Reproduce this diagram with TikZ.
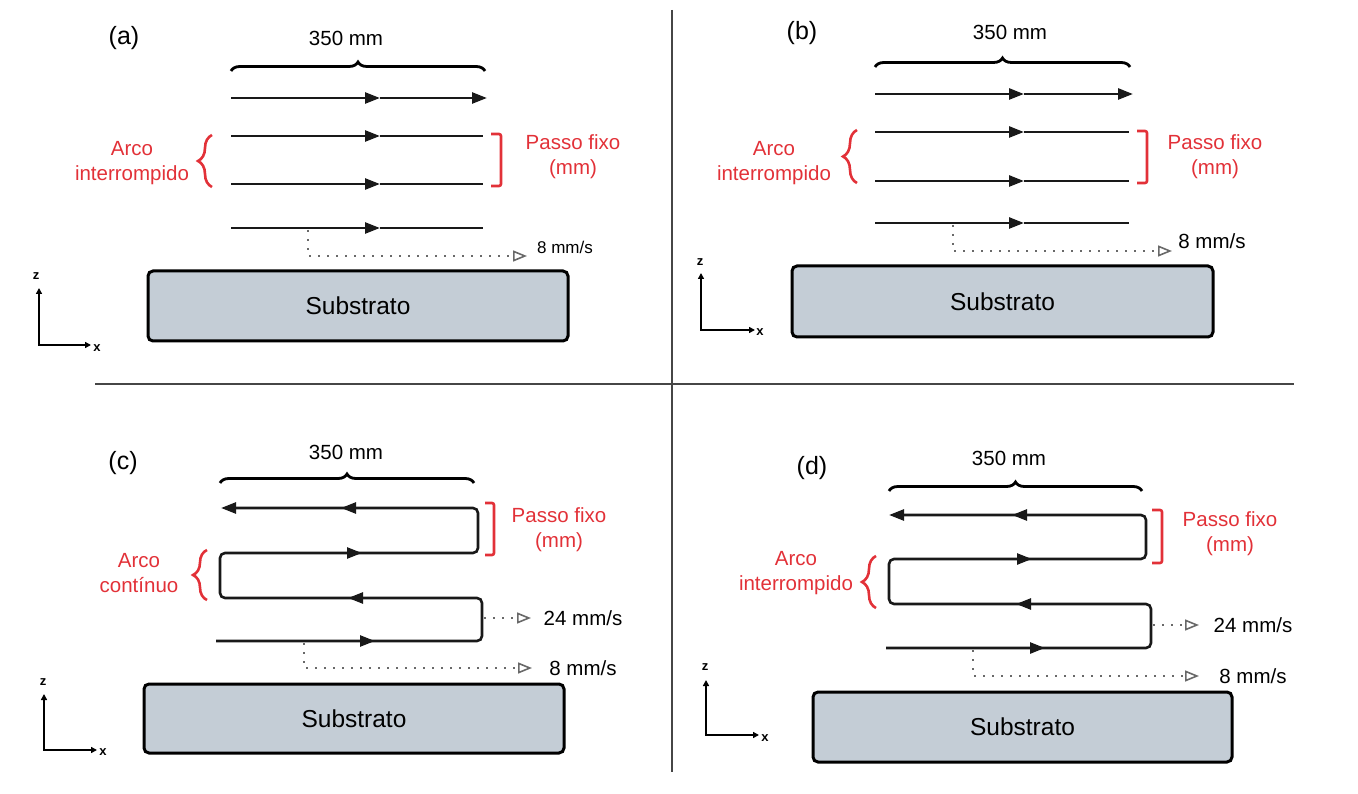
\documentclass[tikz,border=0pt]{standalone}
\usepackage{fontspec}
\setmainfont{Liberation Sans}
\usetikzlibrary{arrows.meta,decorations.pathreplacing}
\definecolor{myred}{RGB}{226,49,56}
\definecolor{subfill}{RGB}{196,205,214}
\definecolor{divgray}{RGB}{70,70,70}
\definecolor{dotgray}{RGB}{105,105,105}
\tikzset{
 trk/.style={line width=2.6pt, black!90},
 tipped/.style={trk, -{Triangle[length=15pt,width=11pt]}},
 spd/.style={line width=2.4pt, dotgray, dash pattern=on 2.4pt off 6.6pt, -{Triangle[open,length=14pt,width=11pt,line width=1.6pt]}},
 topbrace/.style={line width=2.8pt, decorate, decoration={brace,amplitude=9pt}},
 redbrace/.style={myred, line width=2.6pt, decorate, decoration={brace,amplitude=14pt}},
 redbracket/.style={myred, line width=2.6pt, rounded corners=2pt},
 redtxt/.style={myred, font=\fontsize{20.5}{25}\selectfont, align=center, inner sep=0pt},
 txt/.style={font=\fontsize{20.5}{25}\selectfont, inner sep=0pt},
 smalltxt/.style={font=\fontsize{17}{20}\selectfont, inner sep=0pt},
 paneltag/.style={font=\fontsize{25}{28}\selectfont, inner sep=0pt},
 substrate/.style={draw, line width=3pt, fill=subfill, rounded corners=5pt, font=\fontsize{24.5}{28}\selectfont},
 axis/.style={line width=2.6pt, {Triangle[length=6pt,width=6pt]}-{Triangle[length=6pt,width=6pt]}},
 axlbl/.style={font=\bfseries\fontsize{13}{14}\selectfont, inner sep=0pt},
 divider/.style={line width=2pt, divgray},
}
\begin{document}
\begin{tikzpicture}[x=1pt,y=-1pt]
\useasboundingbox (0,0) rectangle (1358,794);
% dividers
\coordinate (vT) at (672,10); \coordinate (vB) at (672,772);
\coordinate (hL) at (95,384); \coordinate (hR) at (1294,384);
\draw[divider] (vT) -- (vB);
\draw[divider] (hL) -- (hR);

% ================= (a)
\node[paneltag] (tagA) at (124,38) {(a)};
\node[txt] (lenA) at (346,38) {350 mm};
\coordinate (braA1) at (231,71); \coordinate (braA2) at (485,71);
\draw[topbrace] (braA1) -- (braA2);
\coordinate (a1s) at (231,98); \coordinate (a1m) at (380,98); \coordinate (a1e) at (487,98);
\coordinate (a2s) at (231,136); \coordinate (a2m) at (380,136); \coordinate (a2e) at (483,136);
\coordinate (a3s) at (231,184); \coordinate (a3m) at (380,184); \coordinate (a3e) at (483,184);
\coordinate (a4s) at (231,228); \coordinate (a4m) at (380,228); \coordinate (a4e) at (483,228);
\draw[tipped] (a1s) -- (a1m); \draw[tipped] (a1m) -- (a1e);
\draw[tipped] (a2s) -- (a2m); \draw[trk] (a2m) -- (a2e);
\draw[tipped] (a3s) -- (a3m); \draw[trk] (a3m) -- (a3e);
\draw[tipped] (a4s) -- (a4m); \draw[trk] (a4m) -- (a4e);
\coordinate (arbA1) at (212,187); \coordinate (arbA2) at (212,135);
\draw[redbrace] (arbA1) -- (arbA2);
\node[redtxt] (arcA) at (132,163.5) {Arco\\interrompido};
\coordinate (pbA1) at (491,134); \coordinate (pbA2) at (501,134);
\coordinate (pbA3) at (501,186); \coordinate (pbA4) at (491,186);
\draw[redbracket] (pbA1) -- (pbA2) -- (pbA3) -- (pbA4);
\node[redtxt] (passoA) at (573,156.5) {Passo fixo\\(mm)};
\coordinate (a8s) at (308,230); \coordinate (a8c) at (308,256); \coordinate (a8e) at (527,256);
\draw[spd] (a8s) -- (a8c) -- (a8e);
\node[smalltxt] (v8A) at (565,247) {8 mm/s};
\node[substrate, minimum width=420pt, minimum height=70pt] (subA) at (358,306) {Substrato};
\coordinate (aO) at (39,345); \coordinate (aZ) at (39,288); \coordinate (aX) at (91,345);
\draw[axis] (aZ) -- (aO) -- (aX);
\node[axlbl] (zA) at (36,276) {z};
\node[axlbl] (xA) at (97,348) {x};

% ================= (b)
\node[paneltag] (tagB) at (802,33) {(b)};
\node[txt] (lenB) at (1010,32) {350 mm};
\coordinate (braB1) at (875,67); \coordinate (braB2) at (1130,67);
\draw[topbrace] (braB1) -- (braB2);
\coordinate (b1s) at (875,94); \coordinate (b1m) at (1024,94); \coordinate (b1e) at (1133,94);
\coordinate (b2s) at (875,132); \coordinate (b2m) at (1024,132); \coordinate (b2e) at (1129,132);
\coordinate (b3s) at (875,181); \coordinate (b3m) at (1024,181); \coordinate (b3e) at (1129,181);
\coordinate (b4s) at (875,223); \coordinate (b4m) at (1024,223); \coordinate (b4e) at (1129,223);
\draw[tipped] (b1s) -- (b1m); \draw[tipped] (b1m) -- (b1e);
\draw[tipped] (b2s) -- (b2m); \draw[trk] (b2m) -- (b2e);
\draw[tipped] (b3s) -- (b3m); \draw[trk] (b3m) -- (b3e);
\draw[tipped] (b4s) -- (b4m); \draw[trk] (b4m) -- (b4e);
\coordinate (arbB1) at (857,183); \coordinate (arbB2) at (857,130);
\draw[redbrace] (arbB1) -- (arbB2);
\node[redtxt] (arcB) at (774,163.5) {Arco\\interrompido};
\coordinate (pbB1) at (1137,131); \coordinate (pbB2) at (1147,131);
\coordinate (pbB3) at (1147,183); \coordinate (pbB4) at (1137,183);
\draw[redbracket] (pbB1) -- (pbB2) -- (pbB3) -- (pbB4);
\node[redtxt] (passoB) at (1215,156.5) {Passo fixo\\(mm)};
\coordinate (b8s) at (953,225); \coordinate (b8c) at (953,251); \coordinate (b8e) at (1172,251);
\draw[spd] (b8s) -- (b8c) -- (b8e);
\node[txt] (v8B) at (1212,241) {8 mm/s};
\node[substrate, minimum width=421pt, minimum height=71pt] (subB) at (1002.5,301.5) {Substrato};
\coordinate (bO) at (701,330); \coordinate (bZ) at (701,273); \coordinate (bX) at (755,330);
\draw[axis] (bZ) -- (bO) -- (bX);
\node[axlbl] (zB) at (700,262) {z};
\node[axlbl] (xB) at (760,332) {x};

% ================= (c)
\node[paneltag] (tagC) at (123,463) {(c)};
\node[txt] (lenC) at (346,452) {350 mm};
\coordinate (braC1) at (220,483); \coordinate (braC2) at (474,483);
\draw[topbrace] (braC1) -- (braC2);
\coordinate (c4s) at (216,641); \coordinate (c4e) at (482,641);
\coordinate (c3e) at (482,598); \coordinate (c3s) at (220,598);
\coordinate (c2s) at (220,553); \coordinate (c2e) at (478,553);
\coordinate (c1e) at (478,508); \coordinate (c1s) at (221,508);
\draw[tipped, rounded corners=5pt] (c4s) -- (c4e) -- (c3e) -- (c3s) -- (c2s) -- (c2e) -- (c1e) -- (c1s);
\coordinate (c4m) at (375,641); \coordinate (c3m) at (348,598);
\coordinate (c2m) at (362,553); \coordinate (c1m) at (341,508);
\draw[tipped] ([xshift=-20pt]c4m) -- (c4m);
\draw[tipped] ([xshift=20pt]c3m) -- (c3m);
\draw[tipped] ([xshift=-20pt]c2m) -- (c2m);
\draw[tipped] ([xshift=20pt]c1m) -- (c1m);
\coordinate (pbC1) at (485,503); \coordinate (pbC2) at (494,503);
\coordinate (pbC3) at (494,555); \coordinate (pbC4) at (485,555);
\draw[redbracket] (pbC1) -- (pbC2) -- (pbC3) -- (pbC4);
\node[redtxt] (passoC) at (559,530) {Passo fixo\\(mm)};
\coordinate (arbC1) at (207,600); \coordinate (arbC2) at (207,550);
\draw[redbrace] (arbC1) -- (arbC2);
\node[redtxt] (arcC) at (139,573.5) {Arco\\contínuo};
\coordinate (c24s) at (484,618); \coordinate (c24e) at (531,618);
\draw[spd] (c24s) -- (c24e);
\node[txt] (v24C) at (583,618) {24 mm/s};
\coordinate (c8s) at (304,643); \coordinate (c8c) at (304,668); \coordinate (c8e) at (532,668);
\draw[spd] (c8s) -- (c8c) -- (c8e);
\node[txt] (v8C) at (583,668) {8 mm/s};
\node[substrate, minimum width=420pt, minimum height=69pt] (subC) at (354,718.5) {Substrato};
\coordinate (cO) at (44,750); \coordinate (cZ) at (44,694); \coordinate (cX) at (97,750);
\draw[axis] (cZ) -- (cO) -- (cX);
\node[axlbl] (zC) at (43,682) {z};
\node[axlbl] (xC) at (103,752) {x};

% ================= (d)
\node[paneltag] (tagD) at (812,468) {(d)};
\node[txt] (lenD) at (1009,458) {350 mm};
\coordinate (braD1) at (889,491); \coordinate (braD2) at (1142,491);
\draw[topbrace] (braD1) -- (braD2);
\coordinate (d4s) at (886,648); \coordinate (d4e) at (1151,648);
\coordinate (d3e) at (1151,604); \coordinate (d3s) at (889,604);
\coordinate (d2s) at (889,559); \coordinate (d2e) at (1146,559);
\coordinate (d1e) at (1146,515); \coordinate (d1s) at (889,515);
\draw[tipped, rounded corners=5pt] (d4s) -- (d4e) -- (d3e) -- (d3s) -- (d2s) -- (d2e) -- (d1e) -- (d1s);
\coordinate (d4m) at (1045,648); \coordinate (d3m) at (1016,604);
\coordinate (d2m) at (1032,559); \coordinate (d1m) at (1012,515);
\draw[tipped] ([xshift=-20pt]d4m) -- (d4m);
\draw[tipped] ([xshift=20pt]d3m) -- (d3m);
\draw[tipped] ([xshift=-20pt]d2m) -- (d2m);
\draw[tipped] ([xshift=20pt]d1m) -- (d1m);
\coordinate (pbD1) at (1152,510); \coordinate (pbD2) at (1162,510);
\coordinate (pbD3) at (1162,563); \coordinate (pbD4) at (1152,563);
\draw[redbracket] (pbD1) -- (pbD2) -- (pbD3) -- (pbD4);
\node[redtxt] (passoD) at (1230,534) {Passo fixo\\(mm)};
\coordinate (arbD1) at (876,608); \coordinate (arbD2) at (876,556);
\draw[redbrace] (arbD1) -- (arbD2);
\node[redtxt] (arcD) at (796,573.5) {Arco\\interrompido};
\coordinate (d24s) at (1153,625); \coordinate (d24e) at (1199,625);
\draw[spd] (d24s) -- (d24e);
\node[txt] (v24D) at (1253,625) {24 mm/s};
\coordinate (d8s) at (973,650); \coordinate (d8c) at (973,676); \coordinate (d8e) at (1199,676);
\draw[spd] (d8s) -- (d8c) -- (d8e);
\node[txt] (v8D) at (1253,676) {8 mm/s};
\node[substrate, minimum width=419pt, minimum height=70pt] (subD) at (1022.5,727) {Substrato};
\coordinate (dO) at (706,735); \coordinate (dZ) at (706,680); \coordinate (dX) at (759,735);
\draw[axis] (dZ) -- (dO) -- (dX);
\node[axlbl] (zD) at (705,667) {z};
\node[axlbl] (xD) at (765,738) {x};
\end{tikzpicture}
\end{document}
